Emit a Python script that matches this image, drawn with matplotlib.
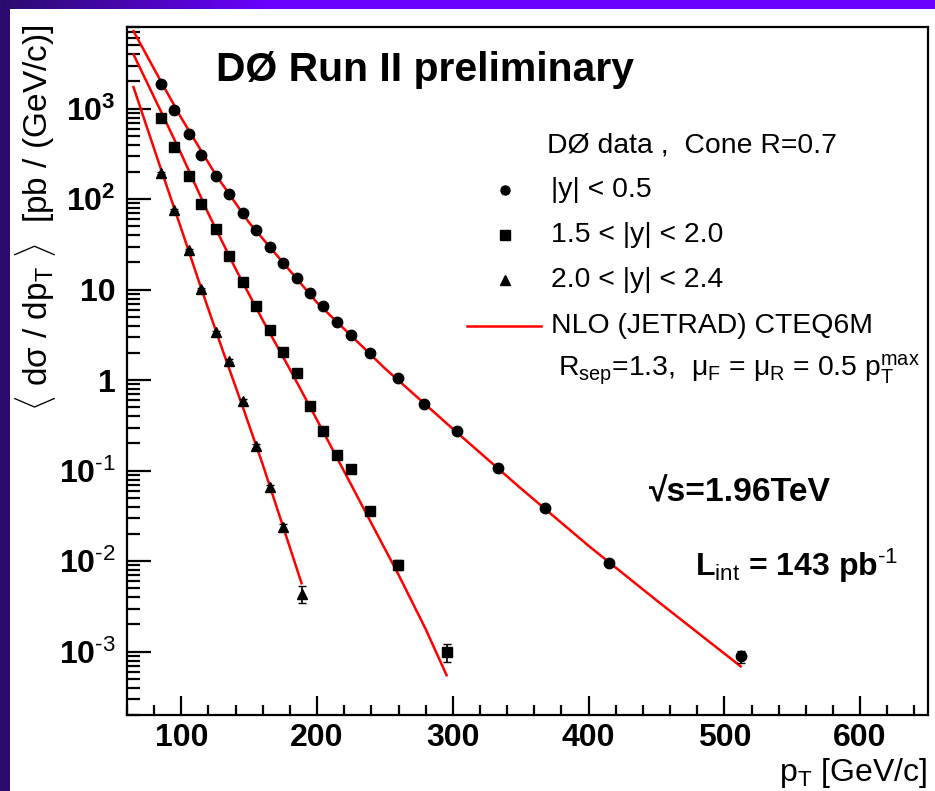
import numpy as np
import matplotlib.pyplot as plt
from matplotlib.ticker import MultipleLocator, LogLocator, NullFormatter
from matplotlib.colors import LinearSegmentedColormap
from matplotlib.patches import Rectangle

plt.rcParams['font.family'] = ['Liberation Sans', 'DejaVu Sans']
plt.rcParams['mathtext.fontset'] = 'custom'
plt.rcParams['mathtext.rm'] = 'Liberation Sans'
plt.rcParams['mathtext.it'] = 'Liberation Sans:italic'
plt.rcParams['mathtext.bf'] = 'Liberation Sans:bold'

# data points (pT in GeV/c, cross section in pb/(GeV/c))
pt_c = [85.3, 94.6, 105.4, 114.7, 125.7, 135.2, 145.7, 155.0, 165.3, 174.8, 184.9, 195.1,
        204.4, 215.0, 224.7, 239.2, 259.4, 279.0, 303.4, 333.5, 367.6, 415.3, 512.1]
xs_c = [1870, 962, 530, 310, 181, 114, 70, 45.8, 29.4, 19.9, 13.5, 9.1,
        6.6, 4.4, 3.2, 2.0, 1.07, 0.54, 0.275, 0.106, 0.039, 0.0096, 0.00089]
err_c = [20, 10, 5, 3, 2, 1.2, 0.7, 0.5, 0.3, 0.2, 0.15, 0.1,
         0.08, 0.05, 0.04, 0.03, 0.02, 0.012, 0.008, 0.004, 0.002, 0.0008, 0.00014]

pt_s = [85.3, 94.6, 105.4, 114.7, 125.7, 135.2, 145.7, 155.0, 165.3, 174.8, 184.9, 195.1,
        204.4, 215.0, 224.7, 239.2, 259.4, 295.4]
xs_s = [798, 377, 179, 88.5, 46.7, 23.5, 12.2, 6.56, 3.55, 2.04, 1.19, 0.52,
        0.275, 0.151, 0.105, 0.036, 0.0092, 0.0010]
err_s = [10, 5, 2.5, 1.2, 0.7, 0.4, 0.2, 0.12, 0.07, 0.04, 0.03, 0.015,
         0.009, 0.006, 0.005, 0.002, 0.0012, 0.00022]

pt_t = [85.3, 94.6, 105.4, 114.7, 125.7, 135.2, 145.7, 155.0, 165.3, 174.8, 188.6]
xs_t = [195, 76, 27.5, 10.2, 3.4, 1.65, 0.59, 0.187, 0.066, 0.024, 0.0044]
err_t = [4, 2, 0.8, 0.3, 0.12, 0.06, 0.025, 0.01, 0.004, 0.002, 0.0009]

# NLO curves
th_c_pt = [64.8, 85, 100, 125, 150, 200, 250, 300, 350, 400, 450, 512]
th_c = [7200, 2000, 790, 190, 55, 7.2, 1.35, 0.29, 0.064, 0.0148, 0.0037, 0.00069]
th_s_pt = [64.8, 85, 100, 120, 140, 160, 180, 200, 220, 240, 260, 280, 295.4]
th_s = [3980, 933, 316, 69, 17, 4.6, 1.32, 0.363, 0.098, 0.0263, 0.0071, 0.00178, 0.00055]
th_t_pt = [64.8, 85, 100, 115, 130, 145, 160, 175, 188.6]
th_t = [1730, 215, 47, 10, 2.24, 0.52, 0.117, 0.024, 0.0057]

ytick_vals = [1e-3, 1e-2, 1e-1, 1, 10, 1e2, 1e3]
ytick_labels = [r'$\mathbf{10^{\text{-3}}}$', r'$\mathbf{10^{\text{-2}}}$', r'$\mathbf{10^{\text{-1}}}$',
                '1', '10', r'$\mathbf{10^{2}}$', r'$\mathbf{10^{3}}$']
xtick_vals = [100, 200, 300, 400, 500, 600]

W, H = 935, 791
fig = plt.figure(figsize=(W / 100, H / 100), dpi=100)
fig.patch.set_facecolor('#2b0b6e')

# slide frame: gradient band on top, white page
band = fig.add_axes([0, 1 - 9 / H, 1, 9 / H], zorder=-5)
cmap = LinearSegmentedColormap.from_list('band', ['#2b0b6e', '#6a00ff'])
g = np.clip(np.linspace(0, 1, 400) * 3.5, 0, 1)[None, :]
band.imshow(g, cmap=cmap, aspect='auto', extent=[0, 1, 0, 1])
band.axis('off')
fig.add_artist(Rectangle((10 / W, 0), 1 - 10 / W, 1 - 9 / H, transform=fig.transFigure,
                         facecolor='white', edgecolor='none', zorder=-4))

ax = fig.add_axes([127 / W, (H - 715) / H, 801 / W, 688 / H])

ax.plot(th_c_pt, th_c, color='red', lw=1.8, zorder=2)
ax.plot(th_s_pt, th_s, color='red', lw=1.8, zorder=2)
ax.plot(th_t_pt, th_t, color='red', lw=1.8, zorder=2)

ax.errorbar(pt_c, xs_c, yerr=err_c, fmt='o', color='black', ms=7.5, capsize=3, elinewidth=1.2, zorder=3)
ax.errorbar(pt_s, xs_s, yerr=err_s, fmt='s', color='black', ms=7, capsize=3, elinewidth=1.2, zorder=3)
ax.errorbar(pt_t, xs_t, yerr=err_t, fmt='^', color='black', ms=7.5, capsize=3, elinewidth=1.2, zorder=3)

ax.set_yscale('log')
ax.set_xlim(60, 650)
ax.set_ylim(2e-4, 8e3)

ax.set_xticks(xtick_vals)
ax.set_xticklabels([str(v) for v in xtick_vals], fontsize=23, fontweight='bold')
ax.xaxis.set_minor_locator(MultipleLocator(20))
ax.set_yticks(ytick_vals)
ax.set_yticklabels(ytick_labels, fontsize=23, fontweight='bold')
ax.yaxis.set_minor_locator(LogLocator(base=10, subs=np.arange(2, 10)))
ax.yaxis.set_minor_formatter(NullFormatter())

ax.tick_params(which='both', direction='in', width=1.6, top=False, right=False)
ax.tick_params(axis='y', which='major', length=17, pad=8)
ax.tick_params(axis='y', which='minor', length=9)
ax.tick_params(axis='x', which='major', length=14, pad=6)
ax.tick_params(axis='x', which='minor', length=7)
for sp in ax.spines.values():
    sp.set_linewidth(1.6)


def afr(x, y):
    return ((x - 127) / 801, (715 - y) / 688)


# legend drawn by hand
ax.text(*afr(547, 146), 'DØ data ,  Cone R=0.7', fontsize=20.4, va='center', transform=ax.transAxes)
leg_rows = [('o', r'|y| < 0.5', 190), ('s', r'1.5 < |y| < 2.0', 235), ('^', r'2.0 < |y| < 2.4', 280)]
for mk, lab, yy in leg_rows:
    ax.plot(*afr(505, yy), marker=mk, color='black', ms=6.5, transform=ax.transAxes, clip_on=False)
    ax.text(*afr(551, yy), lab, fontsize=20.4, va='center', transform=ax.transAxes)
x0, y0 = afr(467, 326)
x1, _ = afr(541, 326)
ax.plot([x0, x1], [y0, y0], color='red', lw=1.8, transform=ax.transAxes)
ax.text(*afr(551, 326), 'NLO (JETRAD) CTEQ6M', fontsize=20.4, va='center', transform=ax.transAxes)
ax.text(*afr(558, 370), r'R$_{\rm sep}$=1.3,  μ$_{\rm F}$ = μ$_{\rm R}$ = 0.5 p$_{\rm T}^{\rm max}$',
        fontsize=20.4, va='center', transform=ax.transAxes)

fig.text(216 / W, 1 - 81 / H, 'DØ Run II preliminary', fontsize=29.4, fontweight='bold', va='baseline')
fig.text(649 / W, 1 - 493 / H, '√s=1.96TeV', fontsize=24.3, fontweight='bold', va='center')
fig.text(695 / W, 1 - 566 / H, r'L$_{\rm int}$ = 143 pb$^{\mathbf{\text{-1}}}$', fontsize=23,
         fontweight='bold', va='center')

fig.text(927 / W, 1 - 790 / H, r'p$_{\rm T}$ [GeV/c]', fontsize=23, ha='right', va='bottom')
fig.text(36 / W, 1 - 25 / H, r'$\langle$ dσ / dp$_{\rm T}$ $\rangle$  [pb / (GeV/c)]',
         fontsize=24, rotation=90, ha='center', va='top')

fig.savefig('out.png', dpi=100, facecolor=fig.get_facecolor())
